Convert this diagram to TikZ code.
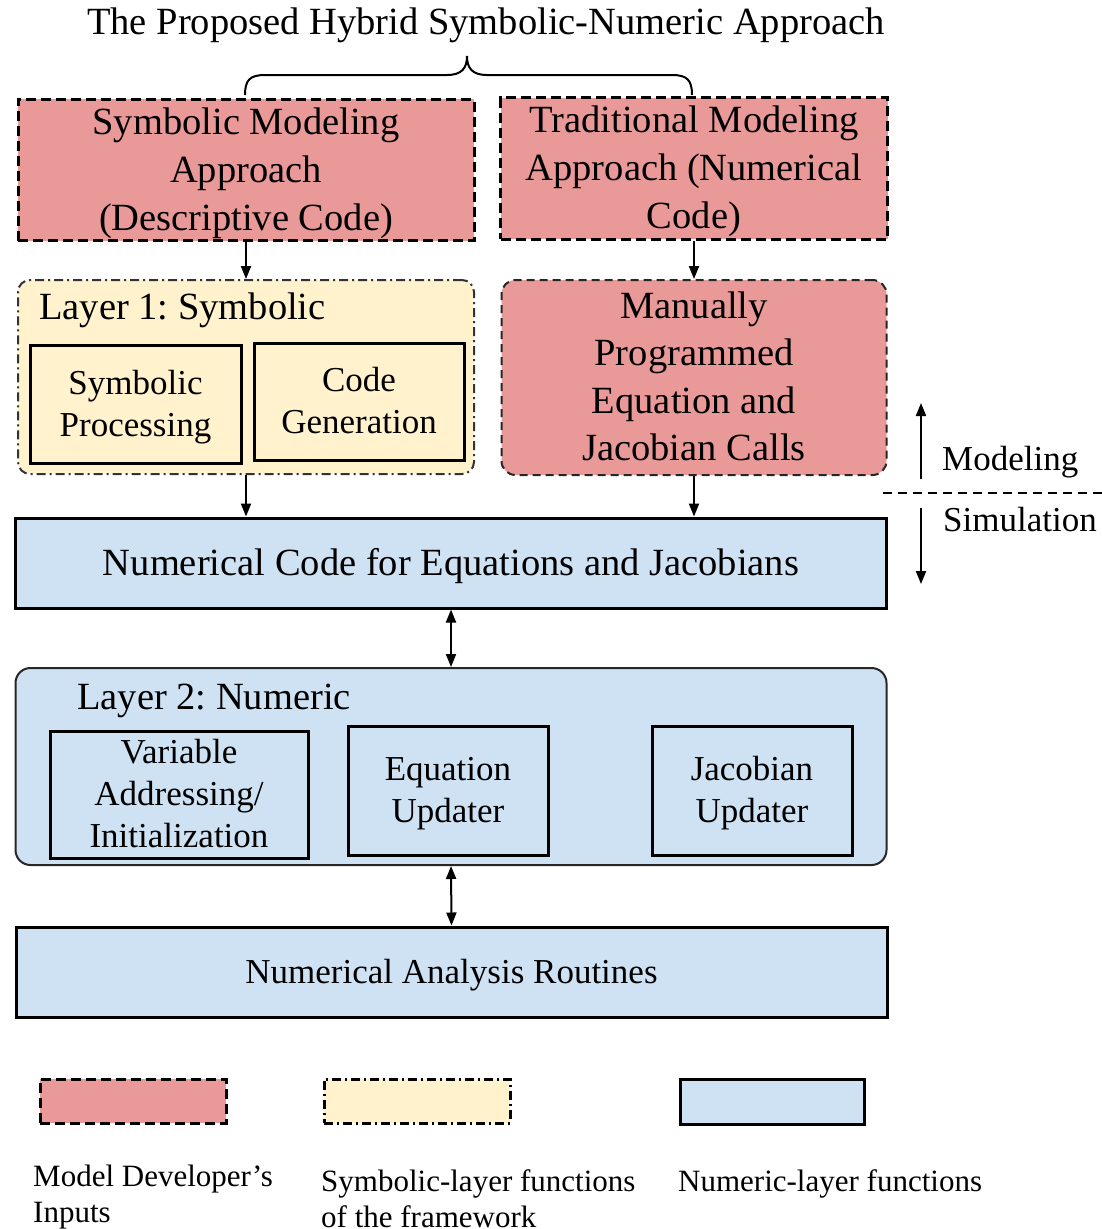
\documentclass[tikz,border=0pt]{standalone}
\usepackage{fontspec}
\setmainfont{Liberation Serif}
\usetikzlibrary{arrows.meta}
\definecolor{inputred}{HTML}{EA9999}
\definecolor{symyellow}{HTML}{FFF2CC}
\definecolor{numblue}{HTML}{CFE2F3}
% fixed line metrics so every text block centres the same way
\newcommand\topstrut{\rule{0pt}{0.9em}}
\newcommand\botstrut{\rule[-0.27em]{0pt}{0pt}}
\frenchspacing

\begin{document}
\begin{tikzpicture}[x=1pt,y=-1pt,
  evenlines/.style={execute at begin node=\topstrut, execute at end node=\botstrut},
  bigtext/.style={font=\fontsize{38.5}{48}\selectfont, evenlines},
  midtext/.style={font=\fontsize{35}{42}\selectfont, evenlines},
  legtext/.style={font=\fontsize{31}{36}\selectfont, align=left, inner sep=0pt, anchor=north west, evenlines},
  inputbox/.style={draw=black, fill=inputred, line width=3pt, dash pattern=on 10pt off 5pt,
                   align=center, inner sep=0pt},
  inputround/.style={draw=black!85, fill=inputred, line width=2pt, dash pattern=on 8pt off 5pt,
                   rounded corners=14pt, align=center, inner sep=0pt},
  symlayer/.style={draw=black!80, fill=symyellow, line width=2pt,
                   dash pattern=on 9pt off 4pt on 2pt off 4pt, rounded corners=12pt, inner sep=0pt},
  symbox/.style={draw=black, fill=symyellow, line width=3pt, align=center, inner sep=0pt},
  numbox/.style={draw=black, fill=numblue, line width=3pt, align=center, inner sep=0pt},
  numlayer/.style={draw=black!85, fill=numblue, line width=2pt, rounded corners=15pt, inner sep=0pt},
  tip/.tip={Triangle[length=13pt,width=10pt]},
  flow/.style={line width=2pt, -tip},
  flowboth/.style={line width=2pt, tip-tip},
]
\useasboundingbox (0,0) rectangle (1102,1229);

% title and brace
\node[bigtext, inner sep=0pt] (title) at (486,22) {The Proposed Hybrid Symbolic-Numeric Approach};
\draw[line width=2pt] (245,95) .. controls (245,80) and (250,75) .. (265,75) -- (447,75)
  .. controls (462,75) and (467,68) .. (467,56)
  .. controls (467,68) and (472,75) .. (487,75) -- (672,75)
  .. controls (687,75) and (692,80) .. (692,95);

% model developer inputs
\node[inputbox, bigtext, minimum width=456pt, minimum height=140pt] (symin) at (246,170)
  {\topstrut Symbolic Modeling\\Approach\\(Descriptive Code)};
\node[inputbox, bigtext, minimum width=387pt, minimum height=137pt] (tradin) at (694,168.5)
  {\topstrut Traditional Modeling\\Approach (Numerical\\Code)};

% layer 1
\node[symlayer, minimum width=456pt, minimum height=194pt] (layer1) at (246,377) {};
\node[bigtext, anchor=west, inner sep=0pt] (layer1lbl) at (39,307) {Layer 1: Symbolic};
\node[symbox, midtext, minimum width=211pt, minimum height=118pt] (symproc) at (135.5,404)
  {\topstrut Symbolic\\Processing};
\node[symbox, midtext, minimum width=210pt, minimum height=117pt] (codegen) at (359,401.5)
  {\topstrut Code\\Generation};

% manual calls
\node[inputround, bigtext, minimum width=385pt, minimum height=195pt, font=\fontsize{38.5}{47.5}\selectfont] (manual) at (694,377.5)
  {\topstrut Manually\\Programmed\\Equation and\\Jacobian Calls};

% numerical code
\node[numbox, bigtext, minimum width=871pt, minimum height=90pt] (numcode) at (451,563)
  {Numerical Code for Equations and Jacobians};

% layer 2
\node[numlayer, minimum width=871pt, minimum height=197pt] (layer2) at (451,766.5) {};
\node[bigtext, anchor=west, inner sep=0pt] (layer2lbl) at (77,697) {Layer 2: Numeric};
\node[numbox, midtext, minimum width=258pt, minimum height=127pt] (varaddr) at (179,794.5)
  {\topstrut Variable\\Addressing/\\Initialization};
\node[numbox, midtext, minimum width=200pt, minimum height=129pt] (equpd) at (448,790.5)
  {\topstrut Equation\\Updater};
\node[numbox, midtext, minimum width=200pt, minimum height=129pt] (jacupd) at (752,790.5)
  {\topstrut Jacobian\\Updater};

% numerical analysis
\node[numbox, midtext, minimum width=871pt, minimum height=90pt] (numan) at (451.5,972)
  {Numerical Analysis Routines};

% connectors
\draw[flow] (symin.south) -- (layer1.north);
\draw[flow] (tradin.south) -- (tradin.south |- manual.north);
\draw[flow] (layer1.south) -- (layer1.south |- numcode.north);
\draw[flow] (manual.south) -- (manual.south |- numcode.north);
\draw[flowboth] (numcode.south) -- (layer2.north);
\draw[flowboth] (layer2.south) -- (numan.north);

% modeling / simulation divider
\coordinate (upfrom) at (921,479);
\coordinate (upto) at (921,403);
\coordinate (downfrom) at (921,508);
\coordinate (downto) at (921,584);
\coordinate (divl) at (883,493);
\coordinate (divr) at (1102,493);
\draw[flow] (upfrom) -- (upto);
\draw[flow] (downfrom) -- (downto);
\draw[line width=2pt, dash pattern=on 9pt off 6pt] (divl) -- (divr);
\node[midtext, anchor=west, inner sep=0pt] (modlbl) at (942,459) {Modeling};
\node[midtext, anchor=west, inner sep=0pt] (simlbl) at (943,520) {Simulation};

% legend
\node[inputbox, minimum width=186pt, minimum height=44pt] (legin) at (133,1101) {};
\node[symlayer, rounded corners=0pt, draw=black, line width=3pt, minimum width=186pt, minimum height=44pt] (legsym) at (417,1101) {};
\node[numbox, minimum width=184pt, minimum height=45pt] (legnum) at (772,1101.5) {};
\node[legtext] (legintxt) at (33,1158) {\topstrut Model Developer’s\\Inputs};
\node[legtext] (legsymtxt) at (321,1163) {\topstrut Symbolic-layer functions\\of the framework};
\node[legtext] (legnumtxt) at (678,1163) {Numeric-layer functions};
\end{tikzpicture}
\end{document}
